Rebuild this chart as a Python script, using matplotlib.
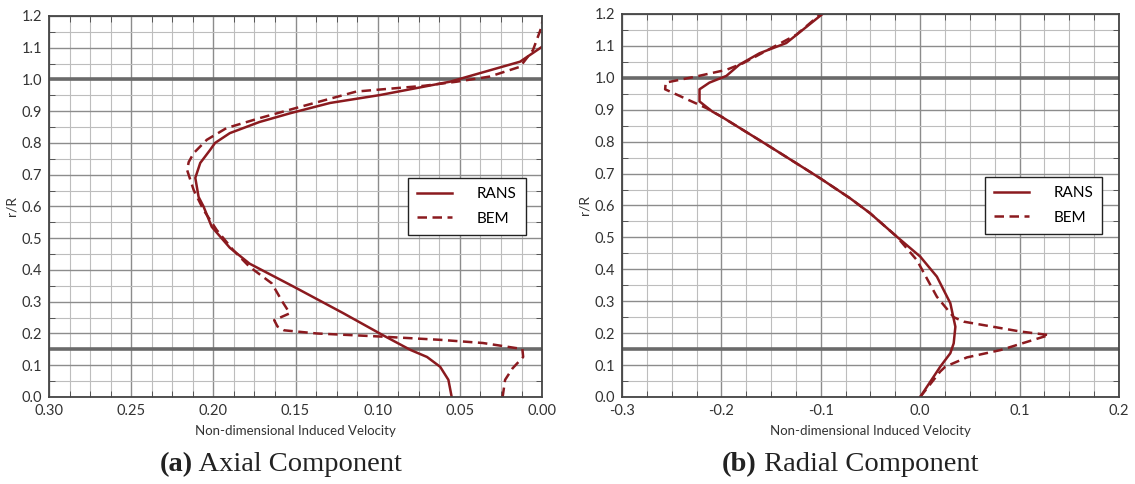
import matplotlib
matplotlib.use("Agg")
import matplotlib.pyplot as plt
from matplotlib.text import Annotation
from matplotlib.ticker import MultipleLocator, FormatStrFormatter

plt.rcParams["font.family"] = ["Lato", "DejaVu Sans"]
plt.rcParams["axes.unicode_minus"] = False

# axial induced velocity (x) against r/R (y)
axial_rans_v = [0.055, 0.057, 0.062, 0.070, 0.080, 0.097, 0.121, 0.151, 0.178, 0.190,
                0.201, 0.206, 0.209, 0.211, 0.208, 0.202, 0.199, 0.190, 0.172, 0.153,
                0.129, 0.0986, 0.056, 0.0134, 0.0, -0.007]
axial_rans_r = [0.0, 0.054, 0.095, 0.126, 0.148, 0.195, 0.264, 0.347, 0.420, 0.470,
                0.536, 0.600, 0.630, 0.690, 0.737, 0.778, 0.800, 0.831, 0.866, 0.894,
                0.926, 0.951, 0.993, 1.056, 1.103, 1.140]
axial_bem_v = [0.024, 0.0225, 0.018, 0.0115, 0.012, 0.036, 0.062, 0.097, 0.137, 0.157,
               0.161, 0.163, 0.1535, 0.158, 0.1645, 0.178, 0.188, 0.198, 0.206, 0.212,
               0.216, 0.215, 0.212, 0.204, 0.192, 0.172, 0.147, 0.113, 0.072, 0.052,
               0.032, 0.0134, 0.0055, 0.001, -0.001]
axial_bem_r = [0.0, 0.054, 0.090, 0.126, 0.151, 0.170, 0.180, 0.190, 0.200, 0.210,
               0.222, 0.242, 0.2635, 0.300, 0.358, 0.410, 0.463, 0.526, 0.589, 0.652,
               0.715, 0.740, 0.768, 0.810, 0.847, 0.878, 0.914, 0.962, 0.980, 0.993,
               1.009, 1.040, 1.093, 1.156, 1.200]

# radial induced velocity (x) against r/R (y)
radial_rans_v = [0.0, 0.0202, 0.0303, 0.0337, 0.0354, 0.0303, 0.0168, 0.0, -0.0236,
                 -0.0505, -0.0707, -0.101, -0.1515, -0.2003, -0.209, -0.222, -0.222,
                 -0.212, -0.195, -0.182, -0.1616, -0.1347, -0.0983]
radial_rans_r = [0.0, 0.095, 0.137, 0.168, 0.220, 0.294, 0.377, 0.440, 0.5025,
                 0.576, 0.623, 0.686, 0.785, 0.879, 0.894, 0.926, 0.964,
                 0.985, 1.006, 1.041, 1.077, 1.109, 1.200]
radial_bem_v = [0.0, 0.0202, 0.0253, 0.047, 0.0808, 0.1296, 0.101, 0.0438, 0.0337,
                0.0168, -0.0034, -0.0236, -0.0505, -0.0707, -0.101, -0.1515, -0.2003,
                -0.215, -0.2566, -0.256, -0.2256, -0.195, -0.178, -0.1246, -0.100]
radial_bem_r = [0.0, 0.080, 0.095, 0.124, 0.147, 0.194, 0.205, 0.236, 0.250,
                0.314, 0.429, 0.5025, 0.576, 0.623, 0.686, 0.785, 0.879,
                0.905, 0.964, 0.985, 1.004, 1.025, 1.046, 1.135, 1.200]

hub_r = 0.15
tip_r = 1.0

LINE_COLOR = "#8b1a1f"
SERIF = ["Liberation Serif", "DejaVu Serif"]
captions = [("(a)", "Axial Component"), ("(b)", "Radial Component")]

fig = plt.figure(figsize=(11.35, 4.84), dpi=100)
ax_a = fig.add_axes([0.0432, 0.1798, 0.4344, 0.7872])
ax_b = fig.add_axes([0.548, 0.1798, 0.4379, 0.7913])


def style_axes(ax, xmajor, xminor, fmt):
    ax.xaxis.set_major_locator(MultipleLocator(xmajor))
    ax.xaxis.set_minor_locator(MultipleLocator(xminor))
    ax.yaxis.set_major_locator(MultipleLocator(0.1))
    ax.yaxis.set_minor_locator(MultipleLocator(0.05))
    ax.xaxis.set_major_formatter(FormatStrFormatter(fmt))
    ax.yaxis.set_major_formatter(FormatStrFormatter("%.1f"))
    ax.grid(which="major", color="#8c8c8c", lw=1.0)
    ax.grid(which="minor", color="#bdbdbd", lw=0.8)
    ax.set_axisbelow(True)
    ax.axhline(tip_r, color="#6a6a6a", lw=2.6, zorder=1.5)
    ax.axhline(hub_r, color="#6a6a6a", lw=2.6, zorder=1.5)
    for s in ax.spines.values():
        s.set_color("#444444")
        s.set_linewidth(1.3)
    ax.tick_params(which="both", direction="in", top=True, right=True,
                   colors="#444444", labelcolor="#333333", labelsize=10.5)
    ax.tick_params(which="major", length=0, pad=5)
    ax.tick_params(which="minor", length=4)
    ax.set_ylim(0, 1.2)
    ax.set_ylabel("r/R", fontsize=10, color="#333333", labelpad=3)
    ax.set_xlabel("Non-dimensional Induced Velocity", fontsize=9.5, color="#333333", labelpad=5)
    ax.legend(loc="center right", bbox_to_anchor=(0.982, 0.5), fontsize=11,
              frameon=True, fancybox=False, edgecolor="#222222", framealpha=1,
              handlelength=2.3, handletextpad=1.6, borderpad=0.6, labelspacing=0.7)


ax_a.plot(axial_rans_v, axial_rans_r, color=LINE_COLOR, lw=1.8, label="RANS")
ax_a.plot(axial_bem_v, axial_bem_r, color=LINE_COLOR, lw=1.8, ls=(0, (3.8, 2.2)), label="BEM")
ax_a.set_xlim(0.30, 0.0)
style_axes(ax_a, 0.05, 0.0125, "%.2f")

ax_b.plot(radial_rans_v, radial_rans_r, color=LINE_COLOR, lw=1.8, label="RANS")
ax_b.plot(radial_bem_v, radial_bem_r, color=LINE_COLOR, lw=1.8, ls=(0, (3.8, 2.2)), label="BEM")
ax_b.set_xlim(-0.3, 0.2)
style_axes(ax_b, 0.1, 0.025, "%.1f")

# sub-figure captions: bold tag followed by regular text
for (tag, title), x0 in zip(captions, [160 / 1135, 722 / 1135]):
    t = fig.text(x0, 0.027, tag, fontsize=20.5, fontweight="bold",
                 family=SERIF, color="#222222", va="baseline")
    ann = Annotation(" " + title, xy=(1, 0), xycoords=t, va="bottom", ha="left",
                     fontsize=20.5, family=SERIF, color="#222222",
                     annotation_clip=False)
    fig.add_artist(ann)

fig.savefig("out.png", dpi=100)
